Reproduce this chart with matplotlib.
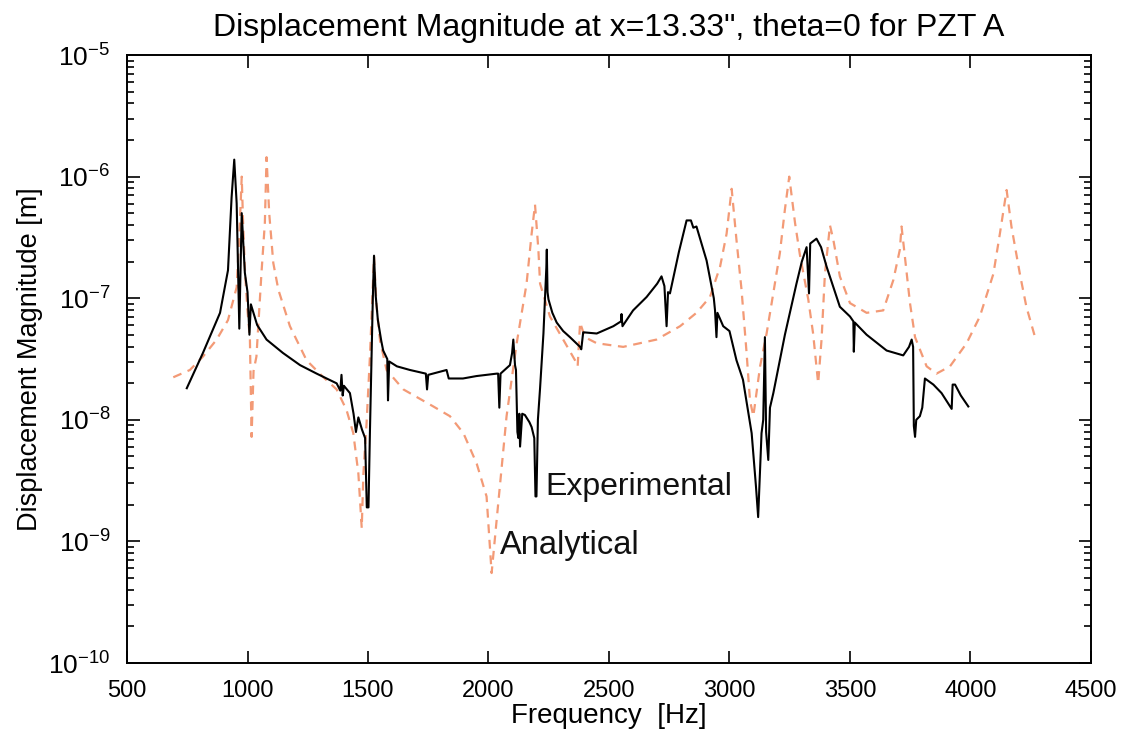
import numpy as np
import matplotlib
matplotlib.use("Agg")
import matplotlib.pyplot as plt
from matplotlib.ticker import FixedLocator, NullFormatter, LogFormatterSciNotation

plt.rcParams['font.family'] = ['Liberation Sans', 'DejaVu Sans']
plt.rcParams['mathtext.fontset'] = 'custom'
plt.rcParams['mathtext.rm'] = 'Liberation Sans'
plt.rcParams['mathtext.it'] = 'Liberation Sans'

# Experimental (black solid): frequency [Hz], log10 displacement [m]
exp_freq = [748, 815, 886, 919, 934, 945, 955, 966, 976, 989, 1000, 1008, 1014, 1040,
            1079, 1147, 1218, 1287, 1370, 1385, 1390, 1395, 1400, 1425, 1440, 1450, 1460,
            1475, 1488, 1495, 1502, 1508, 1515, 1520, 1525, 1532, 1541, 1555, 1563, 1580,
            1583, 1588, 1620, 1674, 1740, 1745, 1750, 1826, 1835, 1840, 1894, 1950, 2034,
            2040, 2045, 2050, 2089, 2098, 2103, 2110, 2114, 2120, 2124, 2128, 2131, 2140,
            2151, 2170, 2179, 2190, 2195, 2199, 2205, 2214, 2228, 2240, 2242, 2245, 2249,
            2265, 2283, 2310, 2338, 2380, 2385, 2393, 2449, 2518, 2550, 2552, 2556, 2600,
            2656, 2700, 2718, 2730, 2739, 2745, 2753, 2790, 2822, 2840, 2850, 2863, 2905,
            2935, 2940, 2946, 2950, 2974, 3000, 3029, 3056, 3092, 3110, 3119, 3125, 3133,
            3140, 3147, 3152, 3161, 3168, 3182, 3230, 3278, 3300, 3320, 3330, 3335, 3361,
            3380, 3403, 3458, 3500, 3514, 3516, 3520, 3569, 3652, 3721, 3745, 3756, 3762,
            3765, 3770, 3775, 3790, 3800, 3811, 3846, 3880, 3922, 3926, 3936, 3960, 3991]
exp_log10 = [-7.74, -7.45, -7.12, -6.77, -6.17, -5.86, -6.22, -7.25, -6.30, -6.79, -6.95, -7.30, -7.05, -7.22,
             -7.34, -7.45, -7.55, -7.62, -7.70, -7.76, -7.63, -7.80, -7.72, -7.78, -7.95, -8.10, -7.98,
             -8.08, -8.15, -8.72, -8.72, -8.10, -7.48, -7.00, -6.65, -6.98, -7.18, -7.35, -7.43, -7.50,
             -7.84, -7.52, -7.56, -7.59, -7.62, -7.75, -7.63, -7.59, -7.66, -7.66, -7.66, -7.64, -7.62,
             -7.62, -7.90, -7.62, -7.55, -7.45, -7.34, -7.55, -7.59, -8.10, -8.15, -7.95, -8.22, -7.95,
             -7.96, -8.02, -8.06, -8.15, -8.63, -8.63, -8.00, -7.74, -7.29, -6.75, -6.60, -6.95, -7.01,
             -7.12, -7.20, -7.27, -7.32, -7.40, -7.42, -7.28, -7.29, -7.23, -7.19, -7.13, -7.23, -7.10,
             -6.99, -6.88, -6.82, -6.90, -7.23, -6.95, -6.96, -6.62, -6.36, -6.36, -6.42, -6.41, -6.69,
             -7.00, -7.10, -7.32, -7.12, -7.23, -7.27, -7.51, -7.67, -8.11, -8.55, -8.80, -8.50, -8.11,
             -8.00, -7.32, -8.10, -8.33, -7.90, -7.78, -7.30, -6.88, -6.70, -6.58, -6.96, -6.55, -6.51,
             -6.58, -6.74, -7.07, -7.15, -7.19, -7.44, -7.20, -7.30, -7.43, -7.47, -7.40, -7.34, -7.40,
             -8.05, -8.14, -8.00, -7.97, -7.90, -7.66, -7.71, -7.78, -7.91, -7.71, -7.71, -7.80, -7.89]

# Analytical (salmon dashed)
ana_freq = [692, 761, 815, 872, 919, 955, 968, 976, 982, 990, 1000, 1010, 1017, 1025, 1037,
            1058, 1072, 1079, 1090, 1107, 1128, 1176, 1245, 1315, 1370, 1411, 1439, 1460, 1474,
            1481, 1494, 1508, 1525, 1535, 1550, 1577, 1647, 1771, 1840, 1896, 1951, 1992, 2013,
            2034, 2075, 2117, 2158, 2179, 2193, 2207, 2214, 2255, 2310, 2359, 2370, 2380, 2400,
            2449, 2559, 2697, 2795, 2863, 2919, 2961, 2988, 3009, 3029, 3050, 3071, 3085, 3099,
            3127, 3154, 3175, 3209, 3230, 3248, 3272, 3292, 3327, 3347, 3368, 3382, 3396, 3417,
            3431, 3458, 3500, 3569, 3638, 3680, 3707, 3714, 3728, 3749, 3770, 3818, 3859, 3915,
            3984, 4039, 4095, 4122, 4150, 4170, 4205, 4232, 4268]
ana_log10 = [-7.65, -7.59, -7.48, -7.34, -7.18, -6.91, -6.40, -6.00, -6.40, -6.80, -7.10, -7.34, -8.14, -7.60, -7.48,
             -6.79, -6.38, -5.84, -6.30, -6.71, -6.93, -7.23, -7.51, -7.65, -7.75, -7.92, -8.11, -8.44, -8.89,
             -8.44, -8.03, -7.48, -6.66, -7.05, -7.35, -7.59, -7.75, -7.89, -7.97, -8.11, -8.36, -8.63, -9.26,
             -8.82, -7.97, -7.37, -6.88, -6.47, -6.23, -6.60, -6.88, -7.15, -7.34, -7.51, -7.56, -7.20, -7.32,
             -7.37, -7.40, -7.34, -7.23, -7.12, -6.99, -6.74, -6.47, -6.10, -6.52, -6.93, -7.45, -7.84, -7.97,
             -7.56, -7.29, -7.04, -6.63, -6.27, -6.00, -6.38, -6.64, -7.01, -7.29, -7.70, -7.34, -6.80, -6.40,
             -6.52, -6.82, -7.04, -7.12, -7.10, -6.85, -6.60, -6.41, -6.66, -7.04, -7.32, -7.56, -7.62, -7.56,
             -7.37, -7.15, -6.80, -6.47, -6.11, -6.41, -6.80, -7.07, -7.32]

x_ticks = [500, 1000, 1500, 2000, 2500, 3000, 3500, 4000, 4500]
y_decades = [-10, -9, -8, -7, -6, -5]

exp_disp = 10.0 ** np.array(exp_log10)
ana_disp = 10.0 ** np.array(ana_log10)

fig = plt.figure(figsize=(11.31, 7.38), dpi=100)
ax = fig.add_axes([0.1123, 0.1016, 0.8523, 0.8238])

ax.plot(ana_freq, ana_disp, color='#F39A76', lw=1.6, ls=(0, (4, 3)))
ax.plot(exp_freq, exp_disp, color='black', lw=1.5)

ax.set_yscale('log')
ax.set_xlim(500, 4500)
ax.set_ylim(1e-10, 1e-5)
ax.xaxis.set_major_locator(FixedLocator(x_ticks))
major_y = [10.0 ** d for d in y_decades]
minor_y = [m * 10.0 ** d for d in y_decades[:-1] for m in range(2, 10)]
ax.yaxis.set_major_locator(FixedLocator(major_y))
ax.yaxis.set_major_formatter(LogFormatterSciNotation())
ax.yaxis.set_minor_locator(FixedLocator(minor_y))
ax.yaxis.set_minor_formatter(NullFormatter())
ax.tick_params(which='both', direction='in', top=True, right=True, width=1.2)
ax.tick_params(which='major', length=9)
ax.tick_params(which='minor', length=5)
ax.tick_params(axis='x', labelsize=17, pad=12)
ax.tick_params(axis='y', labelsize=19, pad=12)
for s in ax.spines.values():
    s.set_linewidth(1.4)

ax.set_title('Displacement Magnitude at x=13.33", theta=0 for PZT A', fontsize=23, pad=14)
ax.set_xlabel('Frequency  [Hz]', fontsize=20, labelpad=1)
ax.set_ylabel('Displacement Magnitude [m]', fontsize=19.5, labelpad=4)

ax.text(2234, 2.4e-9, 'Experimental', fontsize=23, color='#111111', va='baseline', ha='left')
ax.text(2048, 7.9e-10, 'Analytical', fontsize=23.5, color='#111111', va='baseline', ha='left')

fig.savefig('out.png', dpi=100)
